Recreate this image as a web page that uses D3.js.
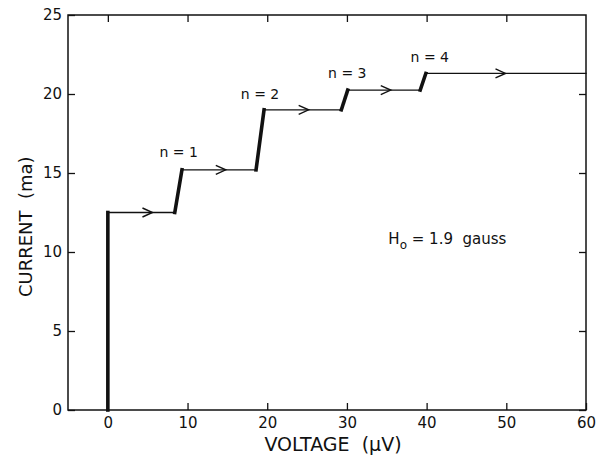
<body style="margin:0;background:#fff">
<svg width="600" height="456"></svg>
<script src="https://d3js.org/d3.v7.min.js"></script>
<script>
// voltage (uV) / current (ma) along the trace
var voltage = [0, 0, 8.4, 9.3, 18.6, 19.6, 29.3, 30.1, 39.2, 39.9, 60];
var current = [0, 12.5, 12.5, 15.2, 15.2, 19.0, 19.0, 20.25, 20.25, 21.3, 21.3];
// segment kind: 1 = thick (jump), 0 = thin (flat step)
var thick = [1, 0, 1, 0, 1, 0, 1, 0, 1, 0];
var arrowX = [5.6, 14.8, 25.2, 35.5, 49.9];
var arrowY = [12.5, 15.2, 19.0, 20.25, 21.3];
var stepLabels = ["n = 1", "n = 2", "n = 3", "n = 4"];
var stepLabelX = [8.9, 19.1, 30.05, 40.4];
var stepLabelY = [16.0, 19.7, 21.0, 22.0];
var xTicks = [0, 10, 20, 30, 40, 50, 60];
var yTicks = [0, 5, 10, 15, 20, 25];

var svg = d3.select("svg");
var m = {l: 68, r: 14, t: 15, b: 46};
var W = 600, H = 456;
var x = d3.scaleLinear().domain([-5, 60]).range([m.l, W - m.r]);
var y = d3.scaleLinear().domain([0, 25]).range([H - m.b, m.t]);
var font = "'DejaVu Sans', sans-serif";

svg.append("rect")
  .attr("x", x(-5)).attr("y", y(25))
  .attr("width", x(60) - x(-5)).attr("height", y(0) - y(25))
  .attr("fill", "none").attr("stroke", "#111").attr("stroke-width", 1.5);

function ax(g) {
  g.selectAll("path").remove();
  g.selectAll("line").attr("stroke", "#111").attr("stroke-width", 1.3);
  g.selectAll("text").attr("fill", "#111").style("font-family", font).style("font-size", "15px");
}
svg.append("g").attr("transform", "translate(0," + y(0) + ")")
  .call(d3.axisBottom(x).tickValues(xTicks).tickSizeInner(-7).tickPadding(7)).call(ax);
svg.append("g").attr("transform", "translate(0," + y(25) + ")")
  .call(d3.axisTop(x).tickValues(xTicks.slice(0, -1)).tickSizeInner(-7).tickFormat("")).call(ax);
svg.append("g").attr("transform", "translate(" + x(-5) + ",0)")
  .call(d3.axisLeft(y).tickValues(yTicks).tickSizeInner(-7).tickPadding(6)).call(ax);
svg.append("g").attr("transform", "translate(" + x(60) + ",0)")
  .call(d3.axisRight(y).tickValues(yTicks.slice(0, -1)).tickSizeInner(-7).tickFormat("")).call(ax);

// trace
var segs = d3.range(voltage.length - 1);
svg.append("g").selectAll("line").data(segs).join("line")
  .attr("x1", function(i) { return x(voltage[i]); })
  .attr("y1", function(i) { return y(current[i]); })
  .attr("x2", function(i) { return x(voltage[i + 1]); })
  .attr("y2", function(i) { return y(current[i + 1]); })
  .attr("stroke", "#111")
  .attr("stroke-linecap", "square")
  .attr("stroke-width", function(i) { return thick[i] ? 3.6 : 1.3; });

// direction arrows
svg.append("g").selectAll("path").data(arrowX).join("path")
  .attr("d", function(d, i) {
    var px = x(d), py = y(arrowY[i]);
    return "M" + (px - 10) + "," + (py - 4.5) + "L" + px + "," + py + "L" + (px - 10) + "," + (py + 4.5);
  })
  .attr("fill", "none").attr("stroke", "#111").attr("stroke-width", 1.4);

svg.append("g").selectAll("text").data(stepLabels).join("text")
  .attr("x", function(d, i) { return x(stepLabelX[i]); })
  .attr("y", function(d, i) { return y(stepLabelY[i]); })
  .attr("text-anchor", "middle")
  .style("font-family", font).style("font-size", "14px").attr("fill", "#111")
  .text(function(d) { return d; });

var h0 = svg.append("text").attr("x", x(35.2)).attr("y", y(10.5))
  .style("font-family", font).style("font-size", "15px").style("white-space", "pre").attr("fill", "#111");
h0.append("tspan").text("H");
h0.append("tspan").attr("dy", 5).style("font-size", "12px").text("o");
h0.append("tspan").attr("dy", -5).text(" = 1.9  gauss");

svg.append("text").attr("x", 333).attr("y", 451)
  .attr("text-anchor", "middle").style("white-space", "pre")
  .style("font-family", font).style("font-size", "19px").attr("fill", "#111")
  .text("VOLTAGE  (\u03bcV)");
svg.append("text")
  .attr("transform", "translate(32," + y(11.6) + ") rotate(-90)")
  .attr("text-anchor", "middle").style("white-space", "pre")
  .style("font-family", font).style("font-size", "18px").attr("fill", "#111")
  .text("CURRENT  (ma)");
</script>
</body>
